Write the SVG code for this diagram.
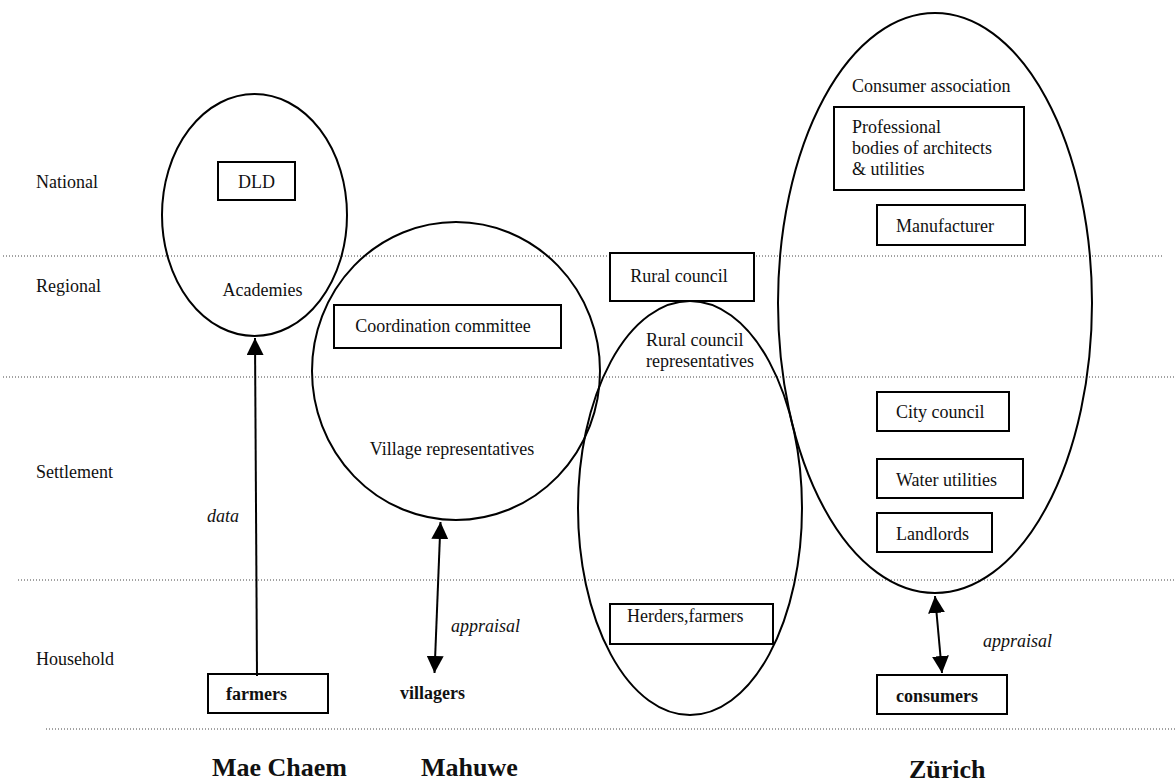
<svg xmlns="http://www.w3.org/2000/svg" width="1175" height="783" viewBox="0 0 1175 783">
<defs>
<style>
text{font-family:"Liberation Serif","Times New Roman",serif;font-size:18px;fill:#111}
.b{font-weight:bold}
.i{font-style:italic}
.t{font-size:26px;font-weight:bold}
.e{fill:none;stroke:#000;stroke-width:2}
.r{fill:#fff;stroke:#000;stroke-width:2}
.d{fill:none;stroke:#444;stroke-width:1;stroke-dasharray:1 2}
.a{fill:none;stroke:#000;stroke-width:2}
</style>
<marker id="ah" viewBox="0 0 17 17" refX="17" refY="8.5" markerWidth="17" markerHeight="17" markerUnits="userSpaceOnUse" orient="auto-start-reverse">
<path d="M0,0 L17,8.5 L0,17 Z" fill="#000"/>
</marker>
</defs>
<rect width="1175" height="783" fill="#fff"/>
<g id="levels">
<line class="d" x1="3" y1="256" x2="1163" y2="256"/>
<line class="d" x1="3" y1="377" x2="1175" y2="377"/>
<line class="d" x1="18" y1="580" x2="1175" y2="580"/>
<line class="d" x1="46" y1="729" x2="1175" y2="729"/>
<text x="36" y="188">National</text>
<text x="36" y="292">Regional</text>
<text x="36" y="478">Settlement</text>
<text x="36" y="665">Household</text>
</g>
<g id="mae-chaem"><ellipse class="e" cx="254.5" cy="215" rx="92.5" ry="121"/></g>
<g id="dld"><rect class="r" x="218" y="162" width="77" height="38"/><text x="256.5" y="188" text-anchor="middle">DLD</text></g>
<g id="academies"><text x="262.5" y="296" text-anchor="middle">Academies</text></g>
<g id="mahuwe"><ellipse class="e" cx="456" cy="371" rx="144" ry="149"/><text x="452" y="455" text-anchor="middle">Village representatives</text></g>
<g id="coordination"><rect class="r" x="334" y="305" width="227" height="43"/><text x="443" y="332" text-anchor="middle">Coordination committee</text></g>
<g id="rural-council"><rect class="r" x="610" y="253" width="144" height="48"/><text x="679" y="282" text-anchor="middle">Rural council</text></g>
<g id="rural-reps"><ellipse class="e" cx="690" cy="508" rx="112" ry="207"/><text x="646" y="346">Rural council</text><text x="646" y="367">representatives</text></g>
<g id="herders"><rect class="r" x="610" y="604" width="163" height="40"/><text x="627" y="622">Herders,farmers</text></g>
<g id="zurich"><ellipse class="e" cx="935" cy="303" rx="157" ry="290"/><text x="852" y="92">Consumer association</text></g>
<g id="professional"><rect class="r" x="834" y="107" width="190" height="83"/><text x="852" y="133">Professional</text><text x="852" y="154">bodies of architects</text><text x="852" y="175">&amp; utilities</text></g>
<g id="manufacturer"><rect class="r" x="877" y="205" width="148" height="40"/><text x="896" y="232">Manufacturer</text></g>
<g id="city-council"><rect class="r" x="877" y="392" width="132" height="39"/><text x="896" y="418">City council</text></g>
<g id="water"><rect class="r" x="877" y="459" width="146" height="39"/><text x="896" y="486">Water utilities</text></g>
<g id="landlords"><rect class="r" x="877" y="513" width="115" height="39"/><text x="896" y="540">Landlords</text></g>
<g id="farmers"><rect class="r" x="208" y="674" width="120" height="39"/><text class="b" x="226" y="700">farmers</text></g>
<g id="villagers"><text class="b" x="400" y="699">villagers</text></g>
<g id="consumers"><rect class="r" x="877" y="675" width="130" height="39"/><text class="b" x="896" y="702">consumers</text></g>
<g id="connectors">
<line class="a" x1="257" y1="676" x2="255" y2="338" marker-end="url(#ah)"/>
<line class="a" x1="434.5" y1="673" x2="440.5" y2="522" marker-start="url(#ah)" marker-end="url(#ah)"/>
<line class="a" x1="942" y1="673" x2="935" y2="596" marker-start="url(#ah)" marker-end="url(#ah)"/>
<text class="i" x="207" y="522">data</text>
<text class="i" x="451" y="632">appraisal</text>
<text class="i" x="983" y="647">appraisal</text>
</g>
<g id="titles">
<text class="t" x="212" y="776">Mae Chaem</text>
<text class="t" x="421" y="776">Mahuwe</text>
<text class="t" x="909" y="778">Zürich</text>
</g>
</svg>
